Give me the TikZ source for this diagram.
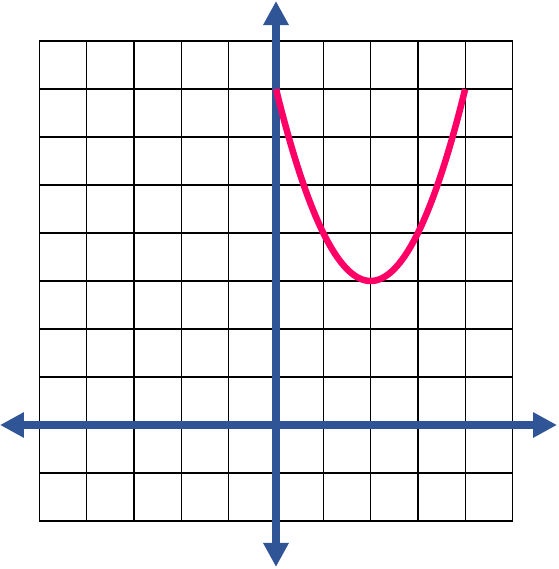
\documentclass[tikz,border=0pt]{standalone}
\usetikzlibrary{arrows.meta}
\definecolor{axisblue}{RGB}{47,85,151}
\definecolor{curvepink}{RGB}{255,0,102}
\tikzset{
  gridline/.style={black, line width=1.2pt},
  axisline/.style={axisblue, line width=8pt, -{Triangle[width=24pt,length=24pt]}},
  curveline/.style={curvepink, line width=6.5pt}
}
\begin{document}
\begin{tikzpicture}[x=47.3pt,y=48pt]
\useasboundingbox (-5.835,-3.0) rectangle (5.983,8.854);
\foreach \i in {-5,...,5} \draw[gridline] (\i,-2) -- (\i,8);
\foreach \j in {-2,...,8} \draw[gridline] (-5,\j) -- (5,\j);
\coordinate (o) at (0,0);
\coordinate (xl) at (-5.835,0);
\coordinate (xr) at (5.941,0);
\coordinate (yt) at (0,8.833);
\coordinate (yb) at (0,-2.958);
\draw[axisline] (o) -- (xl);
\draw[axisline] (o) -- (xr);
\draw[axisline] (o) -- (yt);
\draw[axisline] (o) -- (yb);
\draw[curveline] plot[domain=0:4, samples=100, smooth] (\x, {(\x-2)^2+3});
\end{tikzpicture}
\end{document}
